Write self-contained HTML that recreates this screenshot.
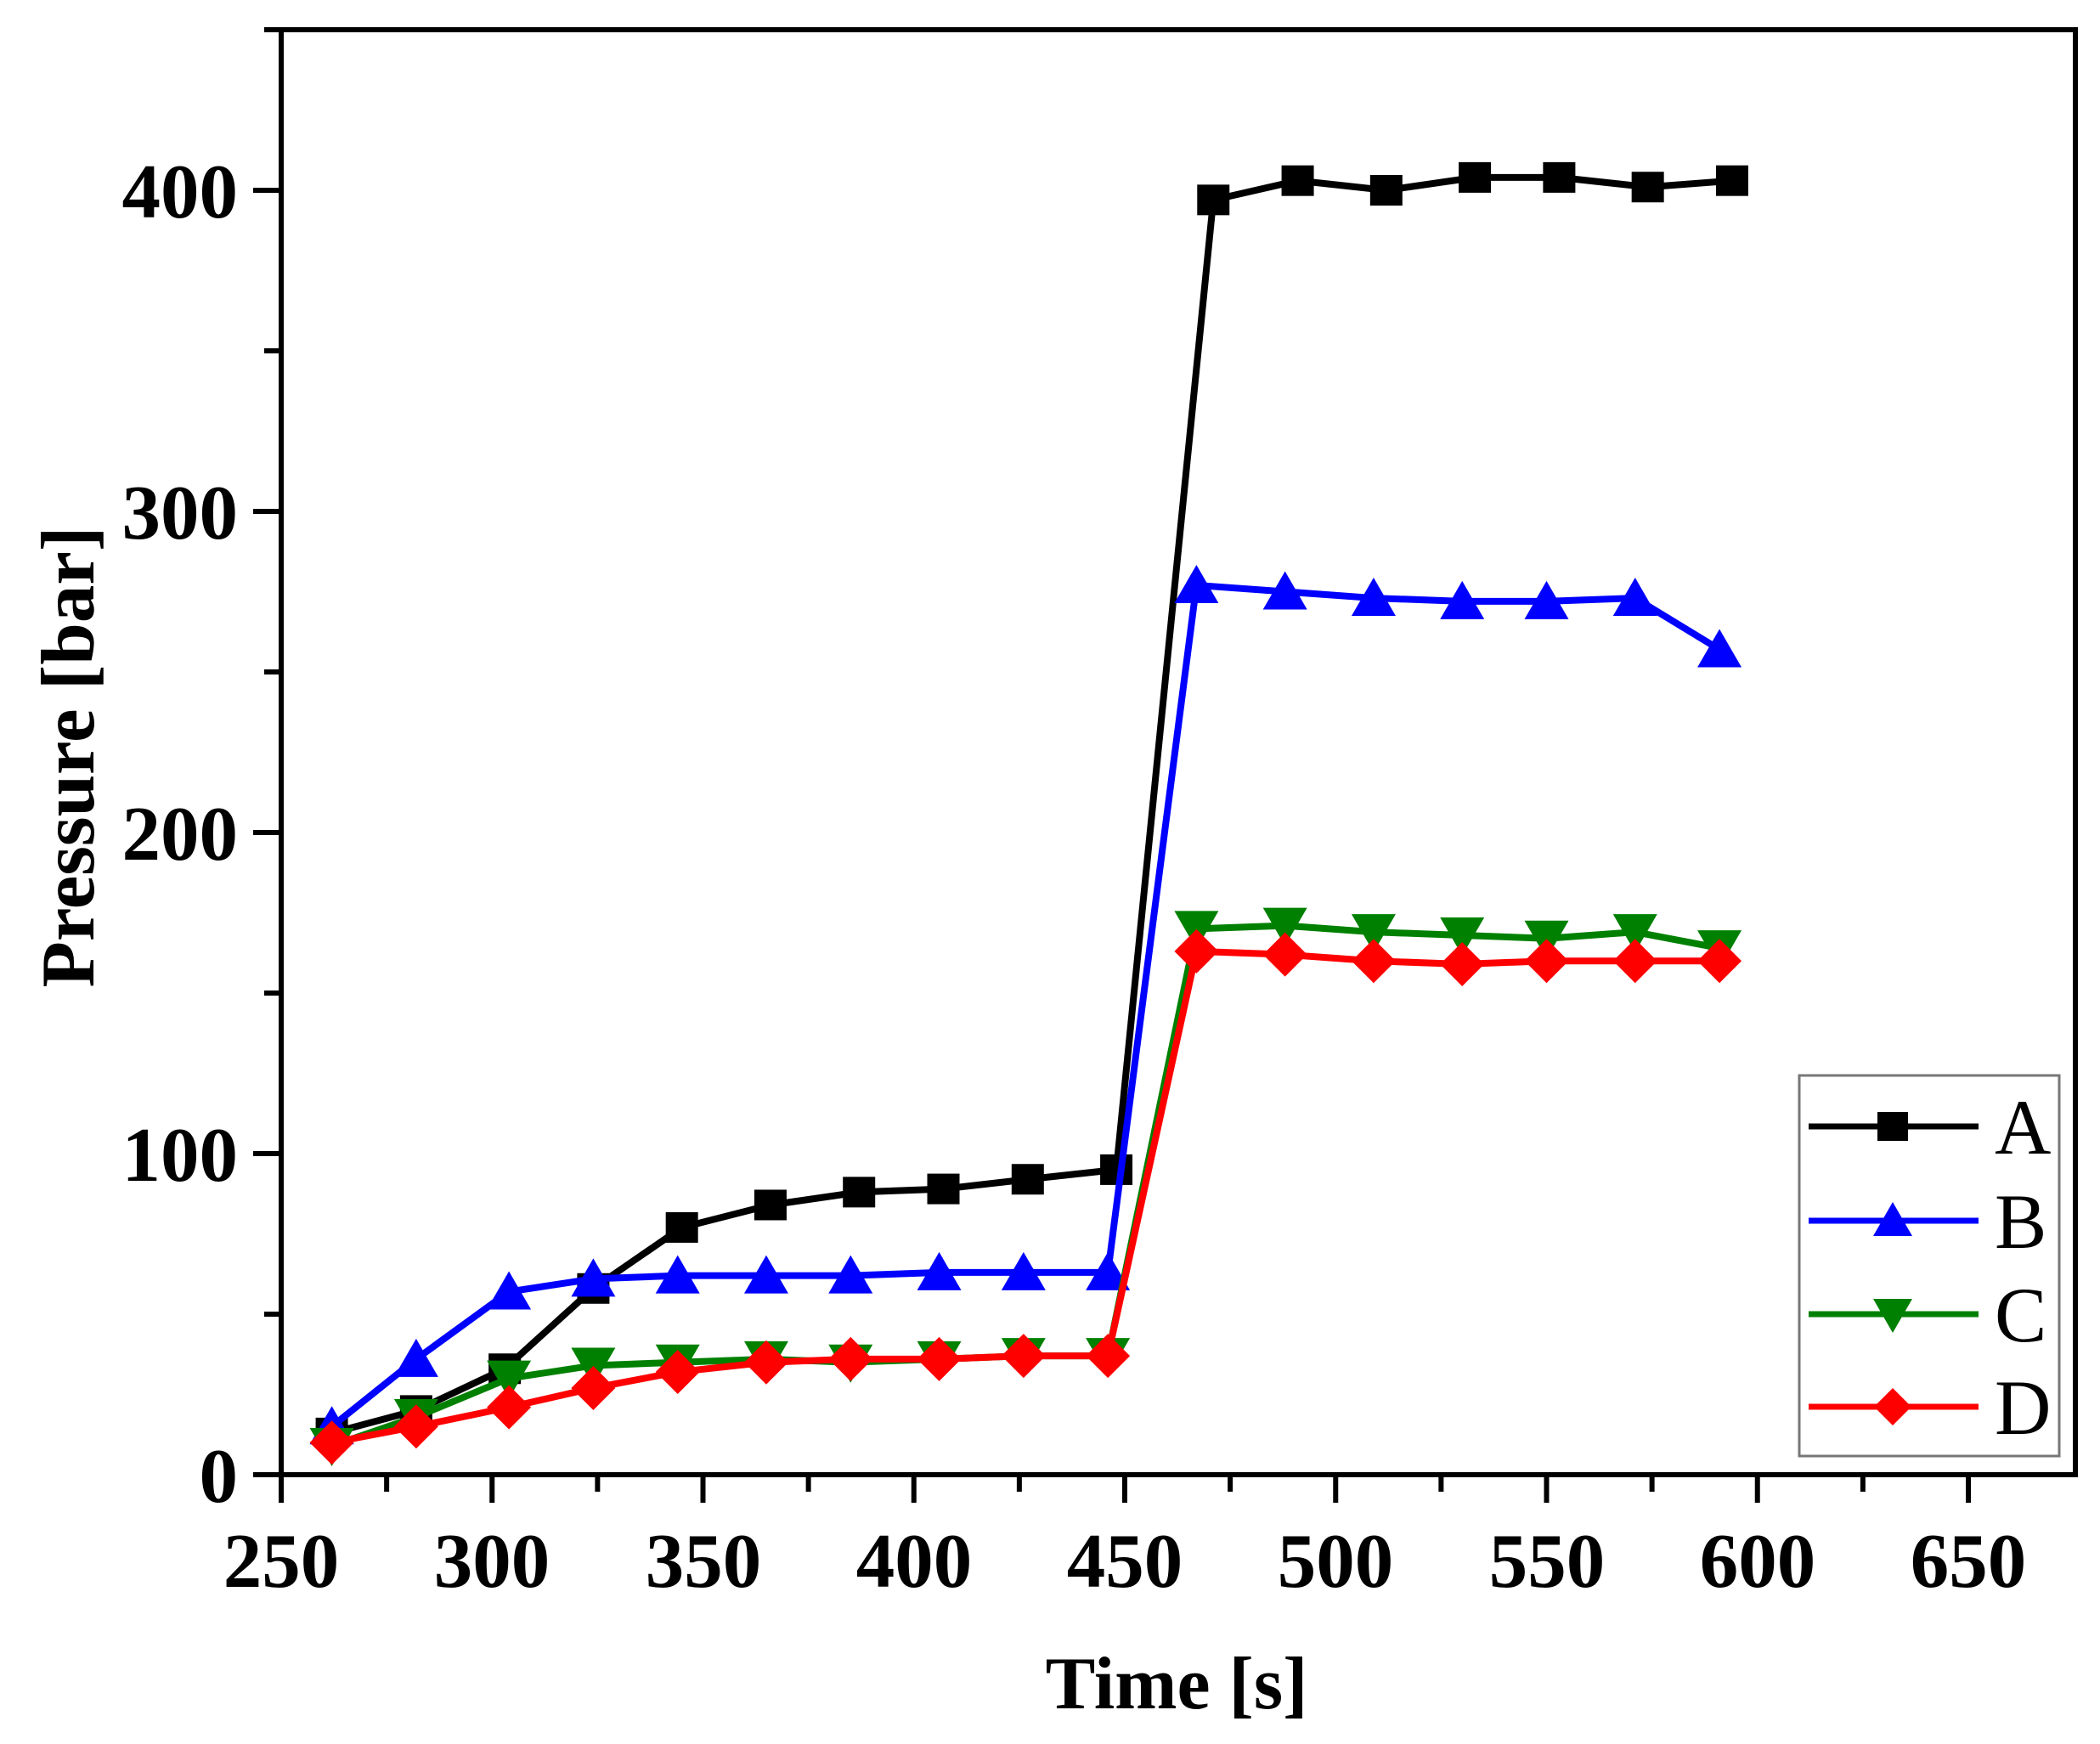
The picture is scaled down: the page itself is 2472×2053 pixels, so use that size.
<!DOCTYPE html>
<html><head><meta charset="utf-8"><style>
html,body{margin:0;padding:0;background:#fff;}
svg{display:block;}
text{font-family:"Liberation Serif",serif;}
</style></head><body>
<svg id="s" width="2472" height="2053" viewBox="0 0 2472 2053" xmlns="http://www.w3.org/2000/svg">
<rect width="2472" height="2053" fill="#fff"/>
<g id="data"></g>
<g stroke="#000" stroke-width="6" fill="none" stroke-linecap="square">
<path d="M331 35 H2443 V1736 H331 Z"/>
</g>
<g id="ticks" stroke="#000" stroke-width="6"></g>
<g font-weight="bold" font-size="91" text-anchor="end">
<text x="280" y="1768">0</text>
<text x="280" y="1390">100</text>
<text x="280" y="1012">200</text>
<text x="280" y="634">300</text>
<text x="280" y="256">400</text>
</g>
<g font-weight="bold" font-size="91" text-anchor="middle">
<text x="331" y="1868">250</text>
<text x="579" y="1868">300</text>
<text x="828" y="1868">350</text>
<text x="1076" y="1868">400</text>
<text x="1324" y="1868">450</text>
<text x="1572" y="1868">500</text>
<text x="1821" y="1868">550</text>
<text x="2069" y="1868">600</text>
<text x="2317" y="1868">650</text>
</g>
<text x="1385" y="2011" font-weight="bold" font-size="88" text-anchor="middle">Time [s]</text>
<text transform="translate(110,891) rotate(-90)" font-weight="bold" font-size="89" text-anchor="middle">Pressure [bar]</text>
<rect x="2118" y="1266" width="306" height="448" fill="#fff" stroke="#777" stroke-width="3"/>
<g stroke-width="7">
<line x1="2129" y1="1326" x2="2329" y2="1326" stroke="#000"/>
<line x1="2129" y1="1437" x2="2329" y2="1437" stroke="#00f"/>
<line x1="2129" y1="1547" x2="2329" y2="1547" stroke="#008000"/>
<line x1="2129" y1="1656" x2="2329" y2="1656" stroke="#f00"/>
</g>
<rect x="2210" y="1309" width="36" height="34" fill="#000"/>
<polygon points="2228,1415 2205,1455 2251,1455" fill="#00f"/>
<polygon points="2228,1569 2205,1529 2251,1529" fill="#008000"/>
<polygon points="2228,1634 2250,1656 2228,1678 2206,1656" fill="#f00"/>
<g font-size="92">
<text x="2348" y="1358">A</text>
<text x="2348" y="1469">B</text>
<text x="2348" y="1579">C</text>
<text x="2348" y="1688">D</text>
</g>
</svg>
<script>
(function(){
var NS="http://www.w3.org/2000/svg";
function X(t){return 331+(t-250)*4.965;}
function Y(p){return 1736-p*3.78;}
var tk=document.getElementById("ticks");
function ln(x1,y1,x2,y2){var l=document.createElementNS(NS,"line");l.setAttribute("x1",x1);l.setAttribute("y1",y1);l.setAttribute("x2",x2);l.setAttribute("y2",y2);tk.appendChild(l);}
for(var t=250;t<=650;t+=25){var x=X(t);ln(x,1736,x,1736+(t%50==0?33:20));}
for(var p=0;p<=450;p+=50){var y=Y(p);ln(331,y,331-(p%100==0?33:20),y);}
var tA=[262,282,303,324,345,366,387,407,427,448,471,491,512,533,553,574,594];
var pA=[13,20,33,58,77,84,88,89,92,95,397,403,400,404,404,401,403];
var tB=[262,282,304,324,344,365,385,406,426,446,467,488,509,530,550,571,591];
var pB=[15,36,57,61,62,62,62,63,63,63,277,275,273,272,272,273,257];
var pC=[9,18,30,34,35,36,35,36,37,37,170,171,169,168,167,169,164];
var pD=[10,15,21,27,32,35,36,36,37,37,163,162,160,159,160,160,160];
var g=document.getElementById("data");
function series(ts,ps,col,m){
 var pts=ts.map(function(t,i){return X(t)+","+Y(ps[i]);}).join(" ");
 var pl=document.createElementNS(NS,"polyline");pl.setAttribute("points",pts);pl.setAttribute("fill","none");pl.setAttribute("stroke",col);pl.setAttribute("stroke-width","8");pl.setAttribute("stroke-linejoin","round");g.appendChild(pl);
 ts.forEach(function(t,i){var x=X(t),y=Y(ps[i]),e;
  if(m=="s"){e=document.createElementNS(NS,"rect");e.setAttribute("x",x-19);e.setAttribute("y",y-18);e.setAttribute("width",38);e.setAttribute("height",36);}
  else{e=document.createElementNS(NS,"polygon");var q;
   if(m=="u")q=[[x,y-24],[x-26,y+21],[x+26,y+21]];
   else if(m=="d")q=[[x,y+24],[x-26,y-21],[x+26,y-21]];
   else q=[[x,y-26],[x+26,y],[x,y+26],[x-26,y]];
   e.setAttribute("points",q.map(function(a){return a.join(",");}).join(" "));}
  e.setAttribute("fill",col);g.appendChild(e);});
}
series(tA,pA,"#000","s");
series(tB,pB,"#00f","u");
series(tB,pC,"#008000","d");
series(tB,pD,"#f00","r");
})();
</script>
</body></html>
